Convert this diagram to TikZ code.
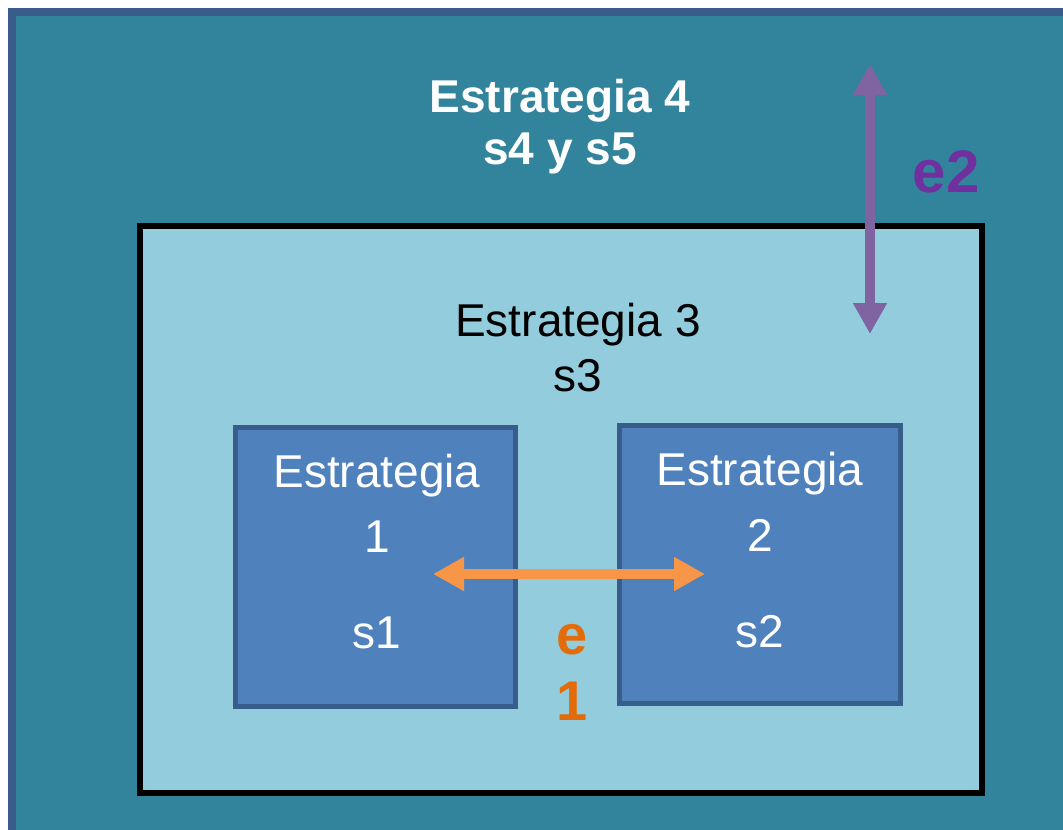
\documentclass[tikz,border=0pt]{standalone}
\usepackage{fontspec}
\setmainfont{Liberation Sans}
\usetikzlibrary{arrows.meta}
\definecolor{outerfill}{HTML}{31849B}
\definecolor{outerline}{HTML}{3A5C8A}
\definecolor{midfill}{HTML}{93CDDD}
\definecolor{boxfill}{HTML}{4F81BD}
\definecolor{boxline}{HTML}{385D8A}
\definecolor{purplearrow}{HTML}{8064A2}
\definecolor{purpletext}{HTML}{7030A0}
\definecolor{orangearrow}{HTML}{F79646}
\definecolor{orangetext}{HTML}{E36C09}
\tikzset{
  bigtext/.style={font=\fontsize{46}{53}\selectfont, inner sep=0pt, anchor=center},
  innerbox/.style={draw=boxline, line width=5pt, fill=boxfill},
  dblarrow/.style={line width=10pt, {Triangle[length=31pt,width=32pt]}-{Triangle[length=31pt,width=32pt]}},
}
\begin{document}
\begin{tikzpicture}[x=1pt,y=-1pt]
\useasboundingbox (0,0) rectangle (1063,830);
\clip (0,0) rectangle (1063,830);
% outer frame
\draw[draw=outerline, line width=8pt, fill=outerfill] (12,12) rectangle (1090,860);
% middle box
\draw[draw=black, line width=6pt, fill=midfill] (140,226) rectangle (982,793);
% inner boxes
\draw[innerbox] (235.5,427.5) rectangle (515.5,706.5);
\draw[innerbox] (619.5,425.5) rectangle (900.5,703.5);
% texts
\node[bigtext, text=white, font=\fontsize{46}{53}\selectfont\bfseries] (t4a) at (560,101) {Estrategia 4};
\node[bigtext, text=white, font=\fontsize{46}{53}\selectfont\bfseries] (t4b) at (560,153) {s4 y s5};
\node[bigtext, text=black] (t3a) at (578,325) {Estrategia 3};
\node[bigtext, text=black] (t3b) at (578,376) {s3};
\node[bigtext, text=white] (t1a) at (377,476) {Estrategia};
\node[bigtext, text=white] (t1b) at (377,537) {1};
\node[bigtext, text=white] (t1c) at (377,633) {s1};
\node[bigtext, text=white] (t2a) at (760,474) {Estrategia};
\node[bigtext, text=white] (t2b) at (760,535) {2};
\node[bigtext, text=white] (t2c) at (760,632) {s2};
% arrows
\coordinate (pu) at (870,64);
\coordinate (pd) at (870,334);
\coordinate (ol) at (433,574);
\coordinate (or) at (705,574);
\draw[dblarrow, draw=purplearrow, fill=purplearrow] (pu) -- (pd);
\draw[dblarrow, draw=orangearrow, fill=orangearrow] (ol) -- (or);
\node[inner sep=0pt, text=purpletext, font=\fontsize{60}{70}\selectfont\bfseries] (e2) at (946,172) {e2};
\node[inner sep=0pt, text=orangetext, font=\fontsize{56}{60}\selectfont\bfseries] (e1a) at (572,640) {e};
\node[inner sep=0pt, text=orangetext, font=\fontsize{56}{60}\selectfont\bfseries] (e1b) at (572,701) {1};
\end{tikzpicture}
\end{document}
